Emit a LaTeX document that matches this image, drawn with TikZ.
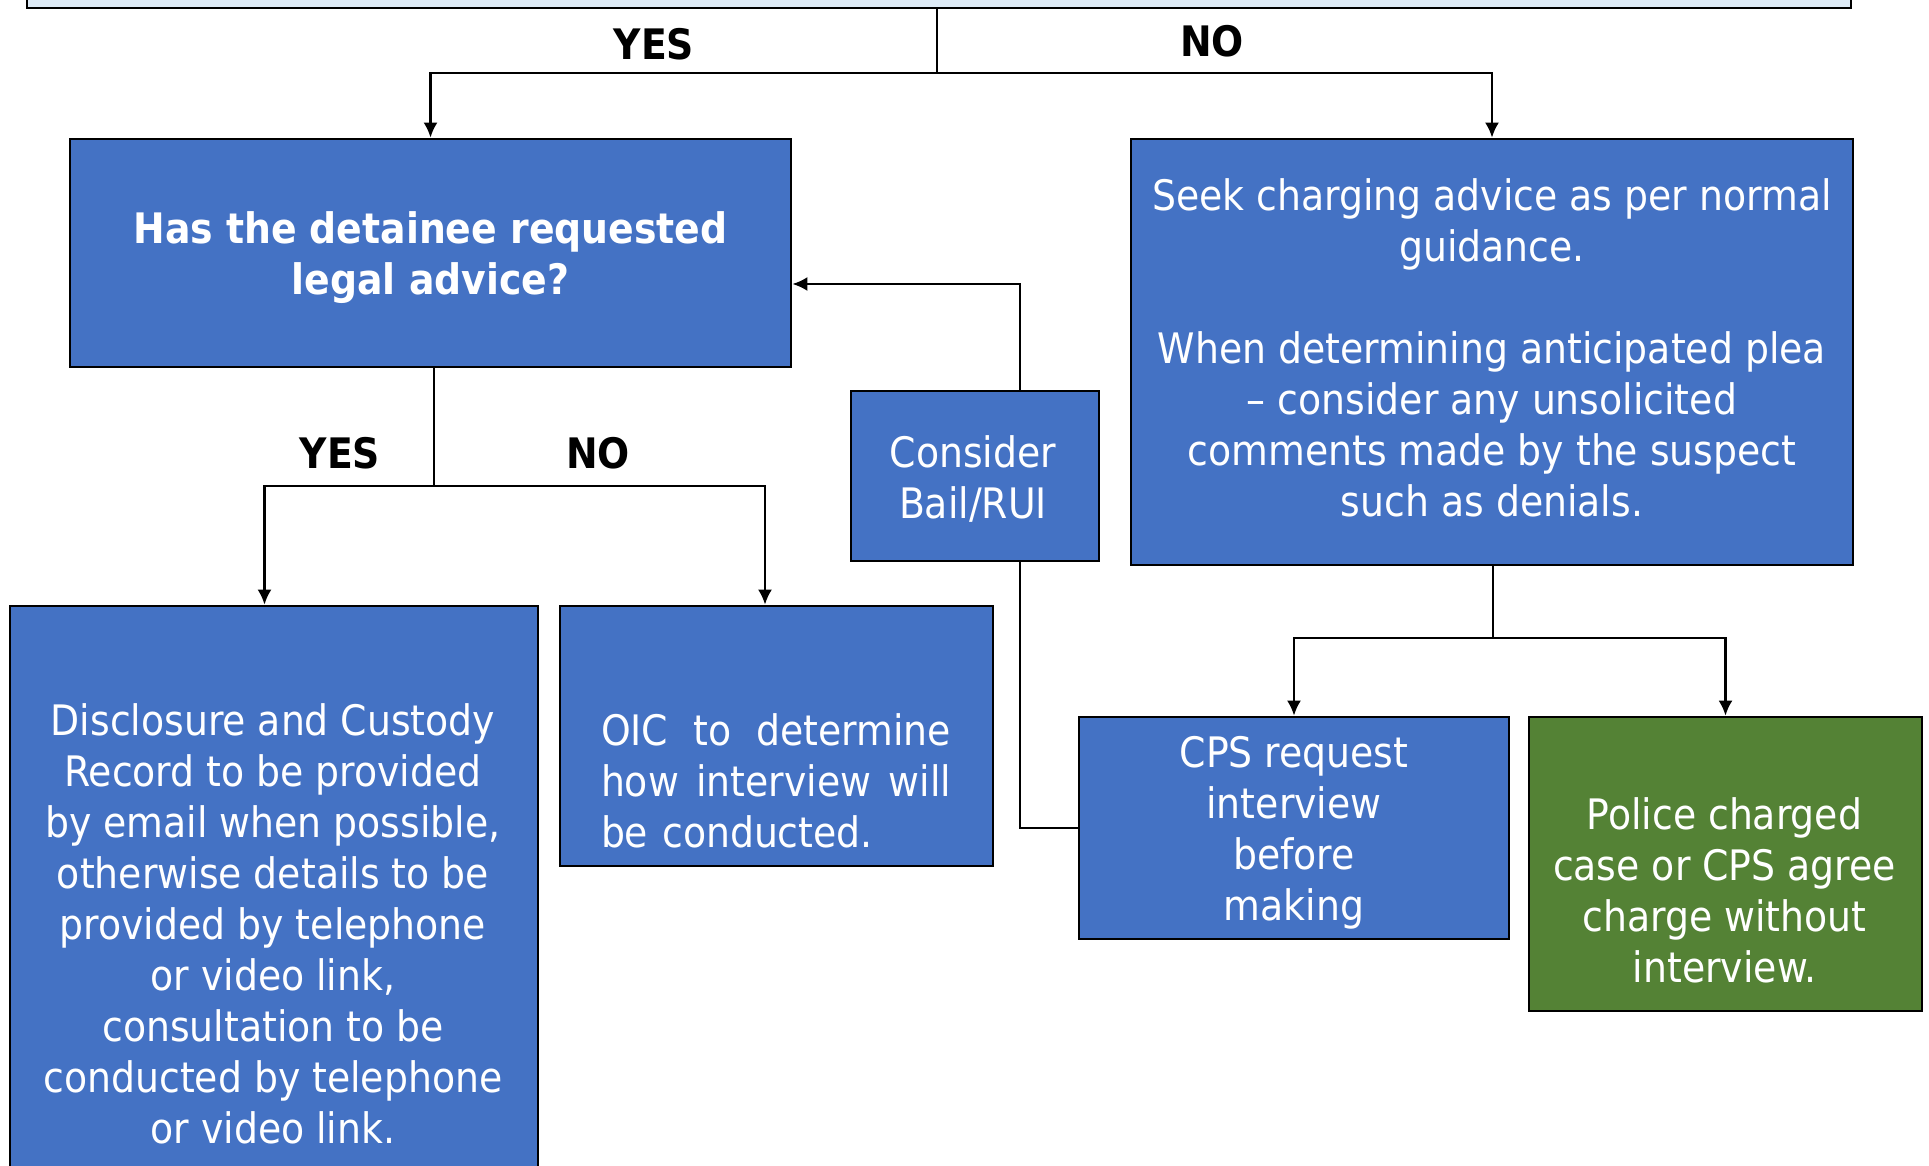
\documentclass[tikz,border=0pt]{standalone}
\usepackage{fontspec}
\setmainfont{DejaVu Sans Condensed}
\usetikzlibrary{arrows.meta}
\definecolor{boxblue}{HTML}{4472C4}
\definecolor{boxgreen}{HTML}{548235}
\definecolor{topfill}{HTML}{DEEBF7}
\begin{document}
\begin{tikzpicture}[x=0.5pt,y=-0.5pt,
  box/.style={draw=black, line width=1.4pt, fill=boxblue, inner sep=0pt},
  txt/.style={text=white, align=center, font=\fontsize{21}{25.5}\selectfont, inner sep=0pt},
  lbl/.style={font=\bfseries\fontsize{21}{25.5}\selectfont, inner sep=0pt},
  conn/.style={draw=black, line width=1.1pt},
  thinconn/.style={draw=black, line width=0.6pt},
  arr/.style={conn, -{Latex[length=7.5pt,width=7pt]}}]
\clip (0,0) rectangle (1929,1166);
% boxes
\node[box, fill=topfill, minimum width=912pt, minimum height=30pt] (top) at (939,-22) {};
\node[box, minimum width=360.5pt, minimum height=114pt] (q1) at (430.5,253) {};
\node[txt, font=\bfseries\fontsize{21}{25.5}\selectfont] (q1t) at (430.5,258) {Has the detainee requested\\legal advice?};
\node[box, minimum width=361pt, minimum height=213pt] (seek) at (1492,352) {};
\node[txt] (seekt) at (1492,348) {Seek charging advice as per normal\\guidance.\\[25.5pt]When determining anticipated plea\\– consider any unsolicited\\comments made by the suspect\\such as denials.};
\node[box, minimum width=124pt, minimum height=85pt] (bail) at (975,476) {};
\node[txt] (bailt) at (973,479) {Consider\\Bail/RUI};
\node[box, minimum width=264pt, minimum height=318.5pt] (disc) at (274,924.5) {};
\node[txt] (disct) at (273,924) {Disclosure and Custody\\Record to be provided\\by email when possible,\\otherwise details to be\\provided by telephone\\or video link,\\consultation to be\\conducted by telephone\\or video link.};
\node[box, minimum width=216.5pt, minimum height=130pt] (oic) at (776.5,736) {};
\node[txt, align=left, text width=175pt] (oict) at (776,781) {\makebox[175pt][l]{OIC\hfill to\hfill determine}\\\makebox[175pt][l]{how\hfill interview\hfill will}\\be conducted.};
\node[box, minimum width=215pt, minimum height=111pt] (cps) at (1294,828) {};
\node[txt] (cpst) at (1294,833) {CPS request\\interview\\before\\making};
\node[box, fill=boxgreen, minimum width=196.5pt, minimum height=147pt] (police) at (1725.5,864) {};
\node[txt] (policet) at (1724.5,890) {Police charged\\case or CPS agree\\charge without\\interview.};
% labels
\node[lbl] (yes1) at (654,44) {YES};
\node[lbl] (no1) at (1212,41) {NO};
\node[lbl] (yes2) at (340,453) {YES};
\node[lbl] (no2) at (598,453) {NO};
% connectors
\coordinate (j1) at (937,73);
\draw[thinconn] (top.south -| j1) -- (j1);
\draw[arr] (j1) -| (q1.north);
\draw[arr] (j1) -| (seek.north);
\coordinate (j2) at (434,486);
\coordinate (d1) at (264.5,486);
\coordinate (o1) at (765,486);
\draw[conn] (q1.south -| j2) -- (j2);
\draw[arr] (j2) -- (d1) -- (d1 |- disc.north);
\draw[arr] (j2) -- (o1) -- (o1 |- oic.north);
\coordinate (b1) at (1020,284);
\coordinate (b2) at (1020,828);
\draw[arr] (b1 |- bail.north) -- (b1) -- (b1 -| q1.east);
\draw[conn] (b2 |- bail.south) -- (b2) -- (b2 -| cps.west);
\coordinate (j3) at (1493,638);
\draw[conn] (seek.south -| j3) -- (j3);
\draw[arr] (j3) -| (cps.north);
\draw[arr] (j3) -| (police.north);
\end{tikzpicture}
\end{document}
